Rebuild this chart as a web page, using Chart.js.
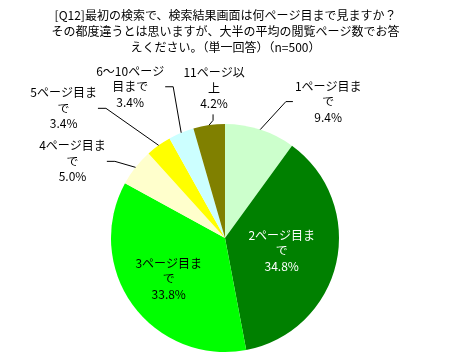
<!DOCTYPE html>
<html><head><meta charset="utf-8">
<script src="https://cdn.jsdelivr.net/npm/chart.js@4/dist/chart.umd.min.js"></script>
<style>html,body{margin:0;padding:0;background:#fff}#wrap{width:451px;height:360px;position:relative}</style>
</head><body><div id="wrap"><canvas id="c"></canvas></div>
<script>
const titleLines = ['[Q12]最初の検索で、検索結果画面は何ページ目まで見ますか？','その都度違うとは思いますが、大半の平均の閲覧ページ数でお答','えください。（単一回答）（n=500）'];
const categories = ['1ページ目まで','2ページ目まで','3ページ目まで','4ページ目まで','5ページ目まで','6〜10ページ目まで','11ページ以上'];
const percents = [9.4, 34.8, 33.8, 5.0, 3.4, 3.4, 4.2];
const colors = ['#CCFFCC','#008000','#00FF00','#FFFFCC','#FFFF00','#CCFFFF','#808000'];

// label presentation (style only)
const labelLayout = [
  {mode:'out', br:6, dx:68, dy:-28, side:'right'},
  {mode:'in', br:6, rf:0.51, color:'#FFFFFF'},
  {mode:'in', br:6, rf:0.61},
  {mode:'out', br:6, dx:-63, dy:-6, side:'left'},
  {mode:'out', br:6, dx:-95, dy:-37, side:'left'},
  {mode:'out', br:7, dx:-51, dy:-46, side:'left'},
  {mode:'out', br:6, dx:5, dy:-37, side:'bottom'}
];
const FONT = '12px "Noto Sans CJK JP", "Noto Sans", sans-serif';
const LH = 15.5;

const titlePlugin = {
  id: 'jpTitle',
  afterDraw(chart) {
    const ctx = chart.ctx;
    ctx.save();
    ctx.font = FONT;
    ctx.fillStyle = '#000';
    ctx.textAlign = 'center';
    ctx.textBaseline = 'middle';
    titleLines.forEach((t, k) => ctx.fillText(t, chart.width / 2, 15 + k * 16));
    ctx.restore();
  }
};

const labelPlugin = {
  id: 'pieLabels',
  afterDatasetsDraw(chart) {
    const ctx = chart.ctx;
    const meta = chart.getDatasetMeta(0);
    ctx.save();
    ctx.font = FONT;
    ctx.textAlign = 'center';
    ctx.textBaseline = 'middle';
    meta.data.forEach((arc, i) => {
      const st = labelLayout[i];
      const name = categories[i];
      const lines = [name.slice(0, st.br)];
      if (name.length > st.br) lines.push(name.slice(st.br));
      lines.push(percents[i].toFixed(1) + '%');
      const mid = (arc.startAngle + arc.endAngle) / 2;
      const r = arc.outerRadius;
      let tx, ty;
      if (st.mode === 'in') {
        tx = arc.x + Math.cos(mid) * r * st.rf;
        ty = arc.y + Math.sin(mid) * r * st.rf;
      } else {
        const ax = arc.x + Math.cos(mid) * r;
        const ay = arc.y + Math.sin(mid) * r;
        tx = ax + st.dx; ty = ay + st.dy;
        const maxW = Math.max(...lines.map(l => ctx.measureText(l).width));
        let ex, ey, bx, by;
        if (st.side === 'left') { ex = tx + maxW / 2 + 1; ey = ty; bx = ex + 8; by = ey; }
        else if (st.side === 'right') { ex = tx - maxW / 2 - 2; ey = ty; bx = ex - 7; by = ey; }
        else { const bottom = ty + lines.length * LH / 2; ex = tx - 1; ey = bottom + 3; bx = ex; by = bottom + 9; }
        ctx.strokeStyle = '#000'; ctx.lineWidth = 1;
        ctx.beginPath(); ctx.moveTo(ax, ay); ctx.lineTo(bx, by); ctx.lineTo(ex, ey); ctx.stroke();
      }
      ctx.fillStyle = st.color || '#000';
      const y0 = ty - (lines.length - 1) * LH / 2;
      lines.forEach((l, k) => ctx.fillText(l, tx, y0 + k * LH));
    });
    ctx.restore();
  }
};

new Chart(document.getElementById('c'), {
  type: 'pie',
  data: { labels: categories, datasets: [{ data: percents, backgroundColor: colors, borderWidth: 0 }] },
  options: {
    responsive: true, maintainAspectRatio: false, animation: false,
    layout: { padding: { top: 124, left: 111, right: 112, bottom: 8 } },
    plugins: {
      legend: { display: false },
      tooltip: { enabled: false },
      title: { display: false }
    }
  },
  plugins: [labelPlugin, titlePlugin]
});
</script></body></html>
